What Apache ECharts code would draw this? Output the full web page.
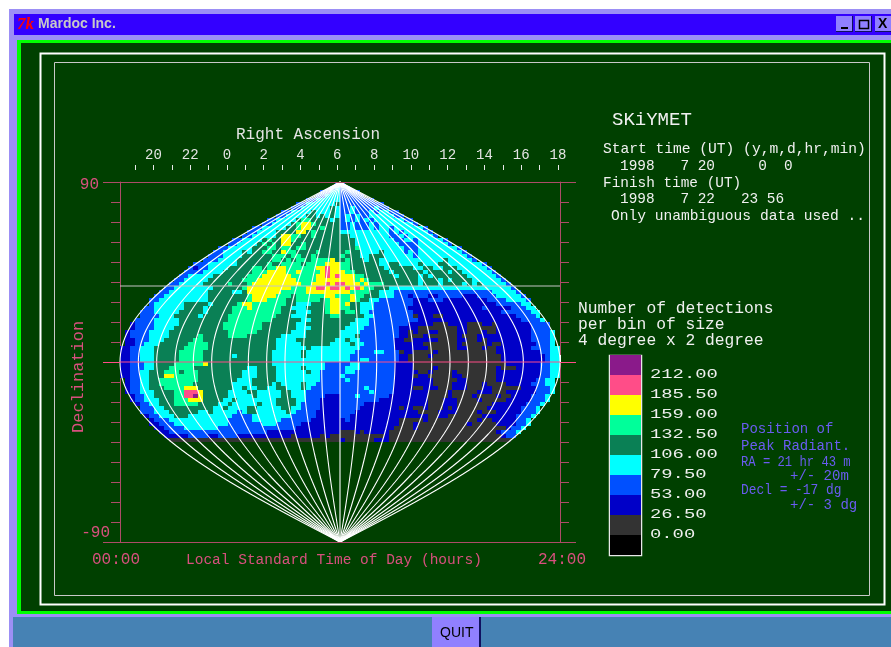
<!DOCTYPE html>
<html>
<head>
<meta charset="UTF-8">
<title>SKiYMET</title>
<script src="https://cdn.jsdelivr.net/npm/echarts@6/dist/echarts.min.js"></script>
<style>
  html, body { margin: 0; padding: 0; background: #fff; }
  #main { width: 891px; height: 647px; }
</style>
</head>
<body>
<div id="main"></div>
<script>
// level per 4x2 degree bin, one string per declination row from +89 down to -39
// left half ends at the central meridian, right half starts at it (spaces are only for counting)
var leftCells = [
  "3","34","3344","33444","33 44444","3344 44445","33444 44454",
  "33 44445 44454","334 44455 45454","33444 45665 55545","3 34444 56776 55555",
  "334 44445 56775 56555","3344 44555 57756 55555","33444 44577 66556 55555",
  "33 44445 65577 65555 55555","334 44456 56577 55655 55555","33444 44555 66566 56655 55555",
  "3 34444 54556 65576 65555 65555","33 34444 55555 56665 66556 55555","333 44445 55555 56656 56656 66675",
  "33344 44445 55555 65566 66566 66777","3 23344 44555 55665 66776 66666 77877",
  "33 33444 45555 55666 77776 67666 67877","334 44445 55555 56667 77777 66666 77878",
  "3344 44455 55555 66677 77777 76666 77777","33444 44555 55655 56777 77777 77667 77878",
  "3 34444 44445 55555 67777 77777 66677 88788","33 44444 44455 55544 57777 77766 66677 77777",
  "334 44444 44455 55555 56777 77666 56666 66776","3344 44444 44455 55555 56777 66665 56666 65677",
  "3444 44455 55545 55556 77666 66665 54445 55677","33444 44455 55455 55566 67666 66655 44455 55677",
  "3 33444 44555 55455 55566 66666 66655 54445 55677","3 33344 45555 54555 55666 66666 66555 44455 55566",
  "33 33444 44555 55555 55666 66666 65555 55445 55555","233 33444 44555 55555 56666 66665 55555 54455 55555",
  "233 33444 45555 55555 56666 66665 55555 54445 55555","2333 34444 55555 55555 55666 66655 55555 44455 55555",
  "2333 34444 55555 56555 55666 65555 55544 44455 55555","2233 34445 55555 66555 55555 55555 55444 45555 55554",
  "2233 44455 55556 66655 55555 55555 55444 44555 55544","22334 44555 55566 66655 55555 55555 55444 44454 44444",
  "22334 44555 55666 66555 55555 55555 54444 44544 44444","22334 44555 55666 66555 55545 55555 54444 44544 44444",
  "22334 44555 55666 66555 55555 55555 54444 44444 44444","22333 44555 56666 66755 55555 55555 54444 44444 44333",
  "22333 44555 66666 55555 55555 54455 55444 44544 44333","22334 45556 66566 65555 55555 44455 55444 44454 43333",
  "22334 45557 76666 65555 55555 44455 55444 44444 43333","2334 45566 66666 65555 55554 44555 55444 44444 43333",
  "2334 45566 66666 55555 55544 44555 54544 44544 33333","2334 45556 66677 75555 55544 54455 44554 44543 33333",
  "2334 44555 56688 87555 55444 45544 44455 44433 33333","233 44555 56688 97555 55444 44544 44455 44433 33222",
  "233 44455 56667 77555 54454 44444 44555 54433 32222","23 34455 56666 65555 44544 44454 44555 54333 32222",
  "3 33445 55555 55554 45444 45544 44455 44333 32222","3 33444 55555 54454 44443 45544 44445 43333 22222",
  "23344 45554 44444 44433 33444 44444 33333 22222","2333 44444 44444 44333 33444 44433 33332 22222",
  "2233 34444 44444 44333 33334 44333 33222 22222","223 33344 44444 33333 33333 33333 32222 22222",
  "22 33333 33333 33333 33333 22222 22222 22222","2 22223 33322 33332 22222 22222 12222 21211",
  "11111 11111 11111 11111 11111 11111 11111"
];
var rightCells = [
  "3","33","3333","33333","33333 33","33333 3333","33433 33433",
  "33433 34344 33","34343 34444 433","34343 43444 44433","33433 34344 44444 3",
  "33433 34344 34444 443","44444 44444 34344 4443","55444 44444 33434 44443",
  "55544 44444 43344 34444 43","55544 44444 44333 34444 443","55564 44444 44433 34444 44443",
  "56554 44454 44434 34444 44444 3","65554 45554 44444 34444 44444 43","56555 45544 44444 44444 45444 443",
  "66555 55544 55444 45444 55444 44443","66555 55554 55555 44554 45554 44444 3",
  "76655 55555 45555 55455 55455 44444 43","77766 55555 54555 54545 55555 54444 443",
  "77767 65555 55555 54555 45455 55444 4443","87776 76665 55555 54555 45555 45454 44443",
  "78787 66555 44444 44444 44444 44444 44444 3","77666 65544 43333 33333 33333 33333 34444 43",
  "66766 55544 43332 33322 33333 22233 33444 443","66765 54433 33333 22233 32222 22222 33334 4443",
  "67554 44333 33333 22222 22222 22222 22333 3344","66554 44333 33332 22222 22222 22223 22222 33344",
  "56654 43333 33333 22222 22222 22222 22233 33334 4","55555 44333 33333 12221 12222 22222 22222 23333 4",
  "55544 43333 33333 32222 22222 22222 22222 22333 34","55444 43333 33332 22221 11222 21112 21222 22223 333",
  "54444 33333 33222 21111 11112 21111 11222 22223 333","44443 33333 33221 21122 11112 21112 11222 22223 3334",
  "44453 33333 33221 11211 11112 11122 22222 22223 3334","45443 33333 32211 22222 11112 21121 22222 22223 3334",
  "44544 33333 32222 22111 11112 11111 21122 22222 3334","44443 33333 32222 22211 11112 21112 11222 22223 33344",
  "44433 33443 33122 11112 11111 11111 11222 22222 23344","44333 33333 33221 11121 11111 11111 11122 22222 22344",
  "44334 43333 33221 11111 11111 11111 11122 22222 22344","33443 33333 32222 11111 11111 11111 11112 22222 23344",
  "34443 33333 32222 11112 11111 11111 11211 12222 23344","34433 33333 32222 21121 11121 11111 11222 22222 23344",
  "43333 33333 32222 12211 11122 11111 11222 22222 23344","34333 33333 32222 22221 11112 21111 11222 22222 3344",
  "33333 33333 32222 22221 11122 21112 11112 22223 3344","33333 43333 32222 11222 11122 21112 21111 11222 3334",
  "33333 34333 32222 22211 11211 11122 21112 22222 3334","33343 33333 22222 22211 11211 11211 11211 22223 334",
  "33333 33322 22222 22211 12221 11121 11112 22223 334","33333 22222 22222 22211 12221 11111 12222 22233 34",
  "33332 22222 22122 11211 12121 11111 22222 22333 4","33322 22222 22222 21111 22221 11121 11222 22333 4",
  "33222 22222 22222 22211 22111 11112 22222 23334","23222 22222 22111 11211 11111 11121 12222 2334",
  "22222 22222 22111 21111 11111 12111 11222 2334","22222 22222 21111 21111 11111 11111 11112 334",
  "11121 22222 11111 11111 11111 11111 11233 34","11111 11112 11111 11111 11111 11111 11123 3",
  "21111 11222 11111 11111 11111 11111 11111"
];

var levelColors = ['#000000','#333333','#0000c8','#0050ff','#00ffff','#0a8055','#00ff9a','#ffff00','#ff4d88','#8a1a8a'];
var legendLabels = ['212.00','185.50','159.00','132.50','106.00','79.50','53.00','26.50','0.00'];
var hourLines = [-12,-11,-10,-9,-8,-7,-6,-5,-4,-3,-2,-1,0,1,2,3,4,5,6,7,8,9,10,11,12];
var infoLines = ['Start time (UT) (y,m,d,hr,min)','1998   7 20     0  0','Finish time (UT)','1998   7 22   23 56','Only unambiguous data used ..'];
var sizeLines = ['Number of detections','per bin of size','4 degree x 2 degree'];

var cells = [];
leftCells.forEach(function (row, r) {
  var s = row.replace(/ /g, '');
  for (var j = 0; j < s.length; j++) {
    cells.push([(45 - s.length + j + 0.5) * 24 / 90, 89 - 2 * r, +s[j]]);
  }
});
rightCells.forEach(function (row, r) {
  var s = row.replace(/ /g, '');
  for (var j = 0; j < s.length; j++) {
    cells.push([(45 + j + 0.5) * 24 / 90, 89 - 2 * r, +s[j]]);
  }
});

// sinusoidal graticule, one curve per hour
var decSteps = [];
for (var d = -90; d <= 90; d += 2) decSteps.push(d);
var meridians = hourLines.map(function (k) {
  return {
    type: 'line', xAxisIndex: 0, yAxisIndex: 0, showSymbol: false, silent: true, z: 4,
    lineStyle: { color: '#ffffff', width: 1.1 },
    data: decSteps.map(function (d) { return [12 + k * Math.cos(d * Math.PI / 180), d]; })
  };
});

var mono = '"Liberation Mono", monospace';
var red = '#d8507e';
var frameRed = '#ad4c68';
var paleText = '#f0f0f0';
var blueText = '#6a5cf0';

function txt(text, x, y, size, color, extra) {
  var el = {
    type: 'text', x: x, y: y, z: 50, silent: true,
    style: { text: text, font: size + 'px ' + mono, fill: color, align: 'left', verticalAlign: 'middle' }
  };
  for (var k in extra) el[k] = extra[k];
  return el;
}
function box(x, y, w, h, fill, z) {
  return { type: 'rect', z: z === undefined ? -100 : z, silent: true, shape: { x: x, y: y, width: w, height: h }, style: { fill: fill } };
}
function outline(x, y, w, h, color, lw, z) {
  return { type: 'rect', z: z === undefined ? -90 : z, silent: true, shape: { x: x, y: y, width: w, height: h }, style: { fill: 'none', stroke: color, lineWidth: lw } };
}
function hline(x1, x2, y, color) {
  return { type: 'line', z: 40, silent: true, shape: { x1: x1, y1: y, x2: x2, y2: y }, style: { stroke: color, lineWidth: 1 } };
}
function winButton(x) {
  return [box(x, 16, 17, 16, '#9080ff', -80), box(x + 16, 16, 1, 16, '#101060', -79), box(x, 31, 17, 1, '#101060', -79)];
}

var graphics = [
  // window frame
  box(9, 9, 882, 638, '#9c8ff5'),
  box(14, 14, 877, 21, '#3300ff', -99),
  box(17, 40, 874, 574, '#00ff00', -98),
  box(21, 43, 870, 568, '#004000', -97),
  box(13, 617, 878, 30, '#4682b4', -96),
  outline(40.5, 53.5, 844, 551, '#ffffff', 2),
  outline(54.5, 62.5, 815, 533, '#c8c8c8', 1),
  // title bar
  { type: 'text', x: 17, y: 25, z: 50, silent: true, style: { text: '7k', font: 'italic bold 17px "Liberation Serif"', fill: '#ff0000', verticalAlign: 'middle' } },
  { type: 'text', x: 38, y: 24.5, z: 50, silent: true, style: { text: 'Mardoc Inc.', font: 'bold 14px "Liberation Sans"', fill: '#c8c8c8', verticalAlign: 'middle' } }
].concat(winButton(836), winButton(855), winButton(875), [
  box(841, 27, 7, 2, '#000000', -78),
  outline(859.5, 20.5, 9, 8, '#000000', 1.5, -78),
  { type: 'text', x: 878, y: 24, z: 50, silent: true, style: { text: 'X', font: 'bold 14px "Liberation Sans"', fill: '#000', verticalAlign: 'middle' } },
  // quit button
  box(432, 617, 48, 30, '#9080ff', -78),
  box(479, 617, 2, 30, '#101060', -77),
  { type: 'text', x: 440, y: 633, z: 50, silent: true, style: { text: 'QUIT', font: '14px "Liberation Sans"', fill: '#000', verticalAlign: 'middle' } },
  // frame lines run past the axes
  hline(103, 576, 182.5, frameRed),
  hline(103, 576, 542.5, frameRed),
  hline(103, 120, 362.5, '#ff4d88'),
  hline(560, 576, 362.5, '#ff4d88'),
  // titles
  txt('Right Ascension', 236, 135, 16, '#e4e4e4'),
  txt('Local Standard Time of Day (hours)', 186, 560, 14.5, red),
  txt('Declination', 78, 433, 17, red, { rotation: Math.PI / 2 }),
  txt('SKiYMET', 612, 120, 19, paleText),
  txt(infoLines[0], 603, 149, 14.6, paleText),
  txt(infoLines[1], 620, 166, 14.4, paleText),
  txt(infoLines[2], 603, 183, 14.4, paleText),
  txt(infoLines[3], 620, 199, 14.4, paleText),
  txt(infoLines[4], 611, 216, 14.6, paleText),
  txt(sizeLines[0], 578, 309, 16.3, paleText),
  txt(sizeLines[1], 578, 325, 16.3, paleText),
  txt(sizeLines[2], 578, 341, 16.3, paleText),
  txt('Position of', 741, 429, 14, blueText),
  txt('Peak Radiant.', 741, 446, 14, blueText),
  txt('RA = 21 hr 43 m', 741, 462, 14, blueText, { scaleX: 0.87 }),
  txt('+/- 20m', 790, 476, 14, blueText),
  txt('Decl = -17 dg', 741, 490, 14, blueText, { scaleX: 0.92 }),
  txt('+/- 3 dg', 790, 505, 14, blueText)
]);

// colour key, top block is the highest level
graphics.push(outline(609.5, 355.5, 32, 200, '#e8e8e8', 1.5));
for (var i = 0; i < levelColors.length; i++) {
  graphics.push(box(610, 535 - i * 20, 31, 20, levelColors[i], -70));
}
legendLabels.forEach(function (t, i) {
  graphics.push(txt(t, 650, 374.5 + i * 20, 12, paleText, { scaleX: 1.57 }));
});

var chart = echarts.init(document.getElementById('main'), null, { renderer: 'canvas' });
chart.setOption({
  animation: false,
  backgroundColor: 'transparent',
  graphic: { elements: graphics },
  grid: [
    { left: 120, top: 182, width: 440, height: 360, containLabel: false },
    { left: 135, top: 169, width: 423, height: 1, containLabel: false }
  ],
  xAxis: [
    {
      type: 'value', gridIndex: 0, min: 0, max: 24, interval: 1,
      splitLine: { show: false },
      axisLine: { show: true, lineStyle: { color: frameRed } },
      axisTick: { show: true, inside: true, length: 7, lineStyle: { color: '#ffffff' } },
      axisLabel: {
        show: true, margin: 10,
        formatter: function (v) { return v === 0 ? '{l|00:00}' : v === 24 ? '{r|24:00}' : ''; },
        rich: {
          l: { fontFamily: mono, fontSize: 16, color: red, padding: [0, 8, 0, 0] },
          r: { fontFamily: mono, fontSize: 16, color: red, padding: [0, 0, 0, 4] }
        }
      }
    },
    {
      type: 'value', gridIndex: 1, position: 'top', min: -5, max: 18, interval: 1,
      splitLine: { show: false },
      axisLine: { show: false },
      axisTick: { show: true, length: 5, lineStyle: { color: '#e8e8e8' } },
      axisLabel: {
        show: true, margin: 7, fontFamily: mono, fontSize: 14, color: '#e4e4e4',
        formatter: function (v) { return v % 2 === 0 ? String((v + 24) % 24) : ''; }
      }
    }
  ],
  yAxis: [
    {
      type: 'value', gridIndex: 0, position: 'left', min: -90, max: 90, interval: 10,
      splitLine: { show: false },
      axisLine: { show: true, lineStyle: { color: frameRed } },
      axisTick: { show: true, length: 9, lineStyle: { color: frameRed } },
      axisLabel: {
        show: true, margin: 10,
        formatter: function (v) { return v === 90 ? '{hi|90}' : v === -90 ? '{lo|-90}' : ''; },
        rich: {
          hi: { fontFamily: mono, fontSize: 16, color: red, padding: [5, 11, 0, 0] },
          lo: { fontFamily: mono, fontSize: 16, color: red, padding: [0, 0, 18, 0] }
        }
      }
    },
    {
      type: 'value', gridIndex: 0, position: 'right', min: -90, max: 90, interval: 10,
      splitLine: { show: false },
      axisLine: { show: true, lineStyle: { color: frameRed } },
      axisTick: { show: true, length: 9, lineStyle: { color: frameRed } },
      axisLabel: { show: false }
    },
    { type: 'value', gridIndex: 1, min: 0, max: 1, show: false }
  ],
  series: [
    {
      type: 'custom', xAxisIndex: 0, yAxisIndex: 0, silent: true, z: 2, clip: false,
      data: cells,
      renderItem: function (params, api) {
        var half = api.size([24 / 90, 2]);
        var c = api.coord([api.value(0), api.value(1)]);
        var x1 = Math.round(c[0] - half[0] / 2), x2 = Math.round(c[0] + half[0] / 2);
        var y1 = Math.round(c[1] - half[1] / 2), y2 = Math.round(c[1] + half[1] / 2);
        return { type: 'rect', shape: { x: x1, y: y1, width: x2 - x1, height: y2 - y1 }, style: { fill: levelColors[api.value(2)] } };
      }
    },
    {
      type: 'line', xAxisIndex: 0, yAxisIndex: 0, showSymbol: false, silent: true, z: 5,
      lineStyle: { color: '#ff4d88', width: 1 }, data: [[0, 0], [24, 0]]
    },
    {
      type: 'line', xAxisIndex: 0, yAxisIndex: 0, showSymbol: false, silent: true, z: 5,
      lineStyle: { color: '#c4c4c4', width: 1 }, data: [[0, 38], [24, 38]]
    }
  ].concat(meridians)
});
</script>
</body>
</html>
